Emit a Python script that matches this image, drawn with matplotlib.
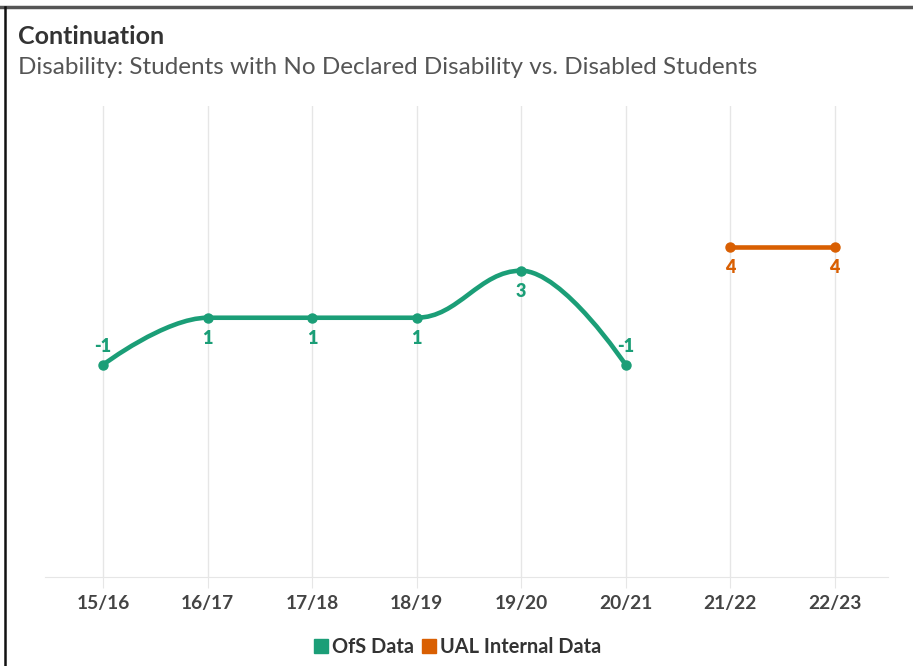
import matplotlib.pyplot as plt
import numpy as np
from matplotlib.path import Path
from matplotlib.patches import PathPatch
from matplotlib.lines import Line2D

years = ['15/16', '16/17', '17/18', '18/19', '19/20', '20/21', '21/22', '22/23']
ofs_years = ['15/16', '16/17', '17/18', '18/19', '19/20', '20/21']
ofs_values = [-1, 1, 1, 1, 3, -1]
ual_years = ['21/22', '22/23']
ual_values = [4, 4]

GREEN = '#1b9e77'
ORANGE = '#d95f02'
FONT = 'Lato'


def spline_path(xs, ys, smoothing=1.5):
    # bezier spline through the points, control points as in a smoothed line chart
    n = len(xs)
    ctrl = [None] * n
    for i in range(1, n - 1):
        lx, ly = xs[i - 1], ys[i - 1]
        px, py = xs[i], ys[i]
        nx, ny = xs[i + 1], ys[i + 1]
        d = smoothing + 1
        lcx = (smoothing * px + lx) / d
        lcy = (smoothing * py + ly) / d
        rcx = (smoothing * px + nx) / d
        rcy = (smoothing * py + ny) / d
        if rcx != lcx:
            corr = (rcy - lcy) * (rcx - px) / (rcx - lcx) + py - rcy
            lcy += corr
            rcy += corr
        if lcy > ly and lcy > py:
            lcy = max(ly, py)
            rcy = 2 * py - lcy
        elif lcy < ly and lcy < py:
            lcy = min(ly, py)
            rcy = 2 * py - lcy
        if rcy > ny and rcy > py:
            rcy = max(ny, py)
            lcy = 2 * py - rcy
        elif rcy < ny and rcy < py:
            rcy = min(ny, py)
            lcy = 2 * py - rcy
        ctrl[i] = (lcx, lcy, rcx, rcy)
    verts = [(xs[0], ys[0])]
    codes = [Path.MOVETO]
    for i in range(1, n):
        prev = ctrl[i - 1]
        c1 = (prev[2], prev[3]) if prev else (xs[i - 1], ys[i - 1])
        cur = ctrl[i]
        c2 = (cur[0], cur[1]) if cur else (xs[i], ys[i])
        verts += [c1, c2, (xs[i], ys[i])]
        codes += [Path.CURVE4] * 3
    return Path(verts, codes)


fig = plt.figure(figsize=(9.13, 6.66), dpi=100)
ax = fig.add_axes([45 / 913, 89 / 666, 843 / 913, 471 / 666])

x_pos = {y: i for i, y in enumerate(years)}
ofs_x = [x_pos[y] for y in ofs_years]
ual_x = [x_pos[y] for y in ual_years]

ax.add_patch(PathPatch(spline_path(ofs_x, ofs_values), fill=False,
                       edgecolor=GREEN, lw=3.3, capstyle='round', zorder=3))
ax.plot(ofs_x, ofs_values, 'o', color=GREEN, ms=6.5, zorder=4)
ax.plot(ual_x, ual_values, '-o', color=ORANGE, lw=3.3, ms=6.5, zorder=4)

for x, v in zip(ofs_x, ofs_values):
    dy = 13 if v < 0 else -15
    ax.annotate(str(v), (x, v), xytext=(0, dy), textcoords='offset points',
                ha='center', va='center', color=GREEN, fontsize=13,
                fontweight='heavy', family=FONT)
for x, v in zip(ual_x, ual_values):
    ax.annotate(str(v), (x, v), xytext=(0, -15), textcoords='offset points',
                ha='center', va='center', color=ORANGE, fontsize=13,
                fontweight='heavy', family=FONT)

ax.set_xlim(-0.555, 7.51)
ax.set_ylim(-10.02, 10.0)
ax.set_xticks(range(len(years)))
ax.set_xticklabels(years, fontsize=13.8, fontweight='bold', color='#444444',
                   family=FONT)
ax.set_yticks([])
ax.grid(axis='x', color='#e6e6e6', lw=1)
ax.tick_params(axis='x', length=8, color='#e6e6e6', pad=5)
for side in ['top', 'right', 'left']:
    ax.spines[side].set_visible(False)
ax.spines['bottom'].set_color('#e6e6e6')

handles = [Line2D([], [], marker='s', ls='', color=GREEN, ms=10),
           Line2D([], [], marker='s', ls='', color=ORANGE, ms=10)]
fig.legend(handles, ['OfS Data', 'UAL Internal Data'], loc='center',
           bbox_to_anchor=(458 / 913, 1 - 647 / 666), ncol=2, frameon=False,
           handletextpad=0.2, columnspacing=0.4, handlelength=0.7,
           prop={'family': FONT, 'weight': 'bold', 'size': 14.4},
           labelcolor='#333333')

fig.text(18 / 913, 1 - 37 / 666, 'Continuation', fontsize=18, fontweight='bold',
         color='#333333', family=FONT, va='center')
fig.text(18 / 913, 1 - 67 / 666,
         'Disability: Students with No Declared Disability vs. Disabled Students',
         fontsize=17.5, color='#555555', family=FONT, va='center')

# outer frame: dark top and left edges
fig.add_artist(Line2D([0, 1], [1 - 6.5 / 666] * 2, color='#555555', lw=2.5,
                      transform=fig.transFigure))
fig.add_artist(Line2D([5 / 913] * 2, [0, 1 - 6.5 / 666], color='#111111', lw=1.8,
                      transform=fig.transFigure))

fig.savefig('out.png', dpi=100)
